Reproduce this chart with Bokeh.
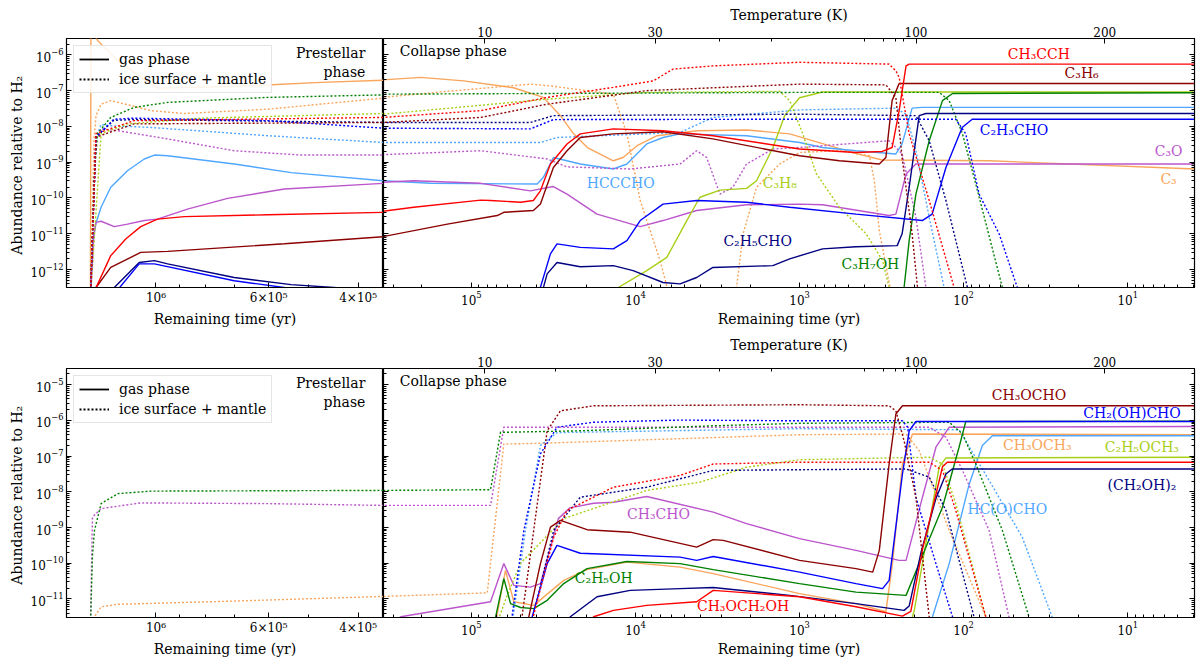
import numpy as np
from bokeh.plotting import figure
from bokeh.models import (Range1d, LogAxis, FixedTicker, CustomJSTickFormatter,
                          Legend, LegendItem, Label)
from bokeh.layouts import column, row
from bokeh.embed import file_html
from bokeh.resources import INLINE

FONT = "DejaVu Serif"

# ---------------------------------------------------------------------------
# Data.  *_t = log10(remaining time / yr),
# *_a = log10(abundance relative to H2).  Each series spans both the
# prestellar panel and the collapse panel (each panel shows its own part).
# ---------------------------------------------------------------------------

# ---------------- top row: C3-bearing species ----------------
c3_gas_t = [6.129, 6.128, 6.122, 6.115, 6.075, 6.043, 6.010, 5.997, 5.911, 5.793, 5.675, 5.552,
            5.54, 5.308, 5.047, 4.743, 4.561, 4.457, 4.378, 4.293, 4.135, 4.075, 3.990, 3.868,
            3.625, 3.321, 3.060, 2.860, 2.654, 2.496, 1.845, 0.59]
c3_gas_a = [-12.8, -5.3, -5.4, -5.6, -6.17, -6.49, -6.82, -6.93, -6.91, -6.85, -6.77, -6.71,
            -6.70, -6.63, -6.73, -6.92, -7.19, -7.70, -8.20, -8.59, -8.96, -8.87, -8.54, -8.26,
            -8.12, -8.10, -8.21, -8.48, -8.76, -8.94, -8.96, -9.19]
c3_ice_t = [6.129, 6.122, 6.118, 6.108, 6.089, 6.063, 6.010, 5.945, 5.780, 5.552,
            5.54, 5.146, 4.640, 4.518, 4.135, 4.052, 3.971, 3.850, 3.789, 3.607, 3.384, 3.344,
            3.262, 3.121, 3.0, 2.757, 2.574, 2.544, 2.514, 2.436]
c3_ice_a = [-12.8, -8.4, -7.70, -7.38, -7.28, -7.37, -7.56, -7.64, -7.52, -7.21,
            -7.19, -7.02, -6.82, -6.87, -7.10, -8.21, -10.07, -11.75, -12.8, -13.5, -12.5, -11.00,
            -9.70, -9.05, -8.73, -8.68, -8.82, -9.52, -10.91, -12.8]

hcccho_gas_t = [6.129, 6.124, 6.118, 6.108, 6.089, 6.056, 6.023, 6.003, 5.977, 5.846, 5.734, 5.552,
                5.54, 5.247, 4.599, 4.561, 4.500, 4.336, 4.135, 4.052, 3.931, 3.832, 3.728, 3.323,
                3.0, 2.860, 2.656, 2.413, 2.375, 2.314, 2.252, 0.59]
hcccho_gas_a = [-12.8, -11.2, -10.7, -10.26, -9.70, -9.24, -8.91, -8.80, -8.82, -9.05, -9.29, -9.52,
                -9.52, -9.59, -9.61, -9.42, -8.87, -9.05, -9.19, -9.05, -8.49, -8.31, -8.21, -8.26,
                -8.45, -8.59, -8.68, -8.77, -8.49, -7.49, -7.47, -7.47]
hcccho_ice_t = [6.129, 6.118, 6.108, 6.089, 6.010, 5.780, 5.552,
                5.54, 4.579, 4.478, 3.728, 3.528, 3.0, 2.413, 2.351, 2.291, 2.210, 2.119, 2.100]
hcccho_ice_a = [-12.8, -8.3, -7.95, -7.98, -8.03, -8.26, -8.45,
                -8.45, -8.45, -8.31, -8.17, -7.75, -7.54, -7.49, -7.66, -8.68, -10.54, -12.5, -12.8]

c3o_gas_t = [6.129, 6.122, 6.118, 6.108, 6.082, 6.056, 6.023, 5.997, 5.938, 5.859, 5.747, 5.552,
             5.54, 5.351, 4.943, 4.640, 4.500, 4.417, 4.234, 3.971, 3.832, 3.627, 3.323, 3.0,
             2.860, 2.454, 2.413, 2.351, 2.291, 0.59]
c3o_gas_a = [-12.8, -11.0, -10.68, -10.65, -10.80, -10.73, -10.63, -10.59, -10.31, -10.01, -9.75, -9.59,
             -9.56, -9.52, -9.59, -9.80, -9.68, -9.89, -10.45, -10.80, -10.63, -10.35, -10.19, -10.17,
             -10.19, -10.49, -10.45, -9.33, -9.05, -9.05]
c3o_ice_t = [6.129, 6.118, 6.108, 6.075, 5.977, 5.846, 5.715, 5.552,
             5.54, 4.943, 4.538, 4.417, 4.032, 3.728, 3.627, 3.566, 3.485, 3.406, 3.323, 3.162,
             3.0, 2.454, 2.375, 2.291, 2.230, 2.210]
c3o_ice_a = [-12.8, -8.3, -8.07, -8.12, -8.35, -8.68, -8.80, -8.80,
             -8.79, -8.68, -8.91, -9.13, -9.19, -9.05, -8.68, -8.87, -9.89, -9.70, -9.05, -8.63,
             -8.59, -8.40, -8.77, -10.54, -12.5, -12.8]

ch3cch_gas_t = [6.124, 6.121, 6.089, 6.059, 6.030, 5.997, 5.944, 5.780, 5.552,
                5.54, 5.351, 4.943, 4.883, 4.700, 4.622, 4.579, 4.518, 4.417, 4.336, 4.135, 3.832,
                3.528, 3.0, 2.656, 2.496, 2.436, 2.393, 2.351, 2.332, 0.59]
ch3cch_gas_a = [-12.8, -12.6, -11.61, -11.14, -10.80, -10.59, -10.52, -10.47, -10.40,
                -10.37, -10.26, -10.06, -10.07, -10.12, -10.07, -9.80, -9.05, -8.49, -8.21, -8.07, -8.12,
                -8.26, -8.63, -8.73, -8.70, -8.59, -7.56, -6.31, -6.26, -6.26]
ch3cch_ice_t = [6.129, 6.118, 6.043, 5.552,
                5.54, 4.943, 4.538, 4.135, 3.892, 3.771, 3.528, 3.0, 2.454, 2.413, 2.393, 2.332,
                2.210, 2.058, 2.039]
ch3cch_ice_a = [-12.8, -8.2, -7.84, -7.75,
                -7.75, -7.56, -7.19, -6.91, -6.73, -6.40, -6.31, -6.21, -6.26, -6.45, -6.63, -8.21,
                -10.07, -12.5, -12.8]

c3h6_gas_t = [6.122, 6.118, 6.089, 6.030, 5.977, 5.747, 5.552,
              5.54, 5.146, 4.842, 4.802, 4.622, 4.579, 4.500, 4.417, 4.336, 4.135, 3.832, 3.528,
              3.0, 2.757, 2.514, 2.474, 2.436, 2.393, 0.59]
c3h6_gas_a = [-12.8, -12.5, -11.94, -11.52, -11.49, -11.28, -11.08,
              -11.08, -10.73, -10.49, -10.40, -10.35, -10.17, -9.15, -8.68, -8.31, -8.21, -8.15, -8.35,
              -8.82, -8.96, -9.05, -8.87, -7.28, -6.80, -6.80]
c3h6_ice_t = [6.129, 6.118, 6.043, 5.552,
              5.54, 4.943, 4.538, 3.931, 3.0, 2.474, 2.413, 2.375, 2.314, 2.281, 2.271]
c3h6_ice_a = [-12.8, -8.3, -7.93, -7.89,
              -7.89, -7.75, -7.38, -7.00, -6.82, -6.84, -7.19, -8.87, -11.00, -12.5, -12.8]

c2h5cho_gas_t = [6.089, 6.082, 6.033, 6.003, 5.977, 5.846, 5.734, 5.650, 5.552,
                 4.579, 4.538, 4.478, 4.336, 4.135, 4.014, 3.832, 3.728, 3.627, 3.528, 3.163,
                 3.060, 2.860, 2.656, 2.405, 2.375, 2.332, 2.271, 2.230, 0.59]
c2h5cho_gas_a = [-12.8, -12.5, -11.80, -11.75, -11.84, -12.22, -12.42, -12.5, -12.62,
                 -12.8, -12.12, -11.80, -11.92, -11.89, -12.03, -12.36, -12.40, -12.22, -11.94, -11.89,
                 -11.70, -11.42, -11.36, -11.33, -11.00, -9.70, -7.70, -7.64, -7.64]
c2h5cho_ice_t = [6.129, 6.118, 6.083, 6.043, 5.552,
                 5.54, 4.640, 4.500, 3.0, 2.291, 2.210, 2.108, 1.977, 1.955]
c2h5cho_ice_a = [-12.8, -8.3, -7.83, -7.81, -7.89,
                 -7.89, -7.89, -7.70, -7.66, -7.70, -8.40, -10.07, -12.5, -12.8]

c2h3cho_gas_t = [6.089, 6.033, 6.003, 5.846, 5.748, 5.656,
                 4.599, 4.518, 4.478, 4.336, 4.135, 4.052, 3.971, 3.832, 3.627, 3.323, 3.060,
                 2.656, 2.252, 2.192, 2.108, 2.009, 1.948, 0.59]
c2h3cho_gas_a = [-12.8, -11.84, -11.84, -12.31, -12.5, -12.8,
                 -12.8, -11.56, -11.28, -11.38, -11.42, -11.19, -10.63, -10.17, -10.07, -10.12, -10.26,
                 -10.45, -10.63, -10.45, -9.15, -8.03, -7.80, -7.80]
c2h3cho_ice_t = [6.129, 6.118, 6.083, 6.043, 5.780, 5.552,
                 5.54, 4.640, 4.500, 3.0, 2.048, 1.987, 1.906, 1.784, 1.673, 1.632]
c2h3cho_ice_a = [-12.8, -8.3, -7.80, -7.77, -7.84, -8.05,
                 -8.05, -8.07, -7.81, -7.80, -7.80, -8.21, -9.89, -11.00, -12.5, -12.8]

c3h8_gas_t = [4.153, 4.105, 3.931, 3.809, 3.687, 3.607, 3.485, 3.323, 3.262, 3.162, 3.091, 3.0, 2.860, 0.59]
c3h8_gas_a = [-12.8, -12.5, -12.03, -11.66, -10.63, -9.98, -9.78, -9.73, -9.52, -8.59, -7.70, -7.20, -7.04, -7.04]
c3h8_ice_t = [6.129, 6.108, 6.056, 5.911, 5.552,
              5.54, 4.538, 3.931, 3.121, 3.060, 2.981, 2.898, 2.757, 2.594, 2.494, 2.454, 2.442]
c3h8_ice_a = [-12.8, -8.20, -7.93, -7.77, -7.64,
              -7.66, -7.24, -7.05, -7.02, -7.28, -8.20, -9.32, -10.26, -11.00, -11.75, -12.5, -12.8]

c3h7oh_gas_t = [2.369, 2.363, 2.332, 2.291, 2.210, 2.129, 2.068, 0.59]
c3h7oh_gas_a = [-12.8, -12.5, -11.19, -9.89, -8.40, -7.28, -7.08, -7.06]
c3h7oh_ice_t = [6.129, 6.122, 6.115, 6.089, 6.043, 5.977, 5.780, 5.552,
                5.54, 3.0, 2.149, 2.088, 2.007, 1.926, 1.764, 1.724]
c3h7oh_ice_a = [-12.8, -9.5, -8.20, -7.75, -7.47, -7.33, -7.19, -7.12,
                -7.10, -7.05, -7.05, -7.28, -8.21, -9.61, -12.5, -12.8]

# ---------------- bottom row: O-bearing COMs ----------------
ch3cho_gas_t = [5.54, 5.430, 4.883, 4.802, 4.741, 4.640, 4.579, 4.52, 4.47, 4.40, 4.255, 4.134,
                3.931, 3.526, 3.323, 3.0, 2.656, 2.393, 2.351, 2.251, 2.169, 2.088, 0.59]
ch3cho_gas_a = [-11.9, -11.5, -11.08, -10.01, -10.62, -10.67, -10.57, -9.6, -8.75, -8.45, -8.32, -8.29,
                -8.13, -8.57, -8.89, -9.31, -9.64, -9.92, -9.92, -8.15, -6.75, -6.19, -6.17]
ch3cho_ice_t = [6.129, 6.125, 6.108, 6.030, 5.780, 5.552,
                5.54, 4.883, 4.802, 3.0, 2.210, 2.108, 2.007, 1.845, 1.724, 1.706]
ch3cho_ice_a = [-11.8, -8.71, -8.47, -8.31, -8.33, -8.38,
                -8.38, -8.38, -6.19, -6.19, -6.19, -6.47, -7.40, -9.08, -11.5, -11.8]

ch3ocho_gas_t = [4.664, 4.650, 4.579, 4.518, 4.457, 4.295, 4.032, 3.627, 3.526, 3.465, 3.0, 2.656,
                 2.554, 2.514, 2.454, 2.413, 2.373, 0.59]
ch3ocho_gas_a = [-11.8, -11.5, -10.01, -8.99, -8.80, -9.06, -9.13, -9.55, -9.34, -9.36, -9.92, -10.15,
                 -10.25, -9.64, -7.22, -5.82, -5.59, -5.59]
ch3ocho_ice_t = [4.700, 4.620, 4.538, 4.457, 4.255, 3.0, 2.454, 2.413, 2.363, 2.291, 2.210, 2.198]
ch3ocho_ice_a = [-11.8, -9.08, -6.29, -5.73, -5.59, -5.56, -5.59, -5.73, -6.57, -8.15, -11.5, -11.8]

glycolald_gas_t = [4.644, 4.629, 4.538, 4.478, 4.336, 3.728, 3.627, 3.526, 3.0, 2.656, 2.494, 2.454,
                   2.373, 2.332, 2.291, 0.59]
glycolald_gas_a = [-11.8, -11.5, -10.01, -9.50, -9.72, -9.83, -9.92, -9.81, -10.25, -10.57, -10.71, -10.48,
                   -7.50, -6.29, -6.03, -6.03]
glycolald_ice_t = [4.761, 4.680, 4.579, 4.478, 4.255, 3.728, 3.0, 2.373, 2.341, 2.291, 2.169, 2.068, 2.058]
glycolald_ice_a = [-11.8, -9.08, -6.94, -6.19, -6.05, -5.99, -6.01, -6.01, -6.19, -8.15, -10.01, -11.5, -11.8]

c2h5oh_gas_t = [4.858, 4.852, 4.802, 4.761, 4.700, 4.620, 4.538, 4.437, 4.295, 4.052, 3.728, 3.526,
                3.0, 2.656, 2.351, 2.230, 2.129, 2.028, 1.987, 0.59]
c2h5oh_gas_a = [-11.8, -11.5, -10.43, -11.13, -11.24, -11.27, -11.04, -10.57, -10.15, -9.95, -10.01, -10.18,
                -10.57, -10.81, -10.90, -9.55, -8.43, -6.75, -6.03, -6.02]
c2h5oh_ice_t = [6.129, 6.125, 6.121, 6.108, 6.075, 6.010, 5.552,
                5.54, 4.883, 4.822, 4.781, 4.336, 3.526, 3.0, 2.088, 2.007, 1.926, 1.764, 1.602, 1.572]
c2h5oh_ice_a = [-11.8, -9.8, -9.08, -8.33, -8.05, -7.98, -7.96,
                -7.96, -7.94, -6.33, -6.33, -6.29, -6.15, -6.08, -6.05, -6.38, -7.22, -9.08, -11.5, -11.8]

ch3och3_gas_t = [4.858, 4.792, 4.741, 4.620, 4.437, 4.295, 4.052, 3.728, 3.526, 3.0, 2.656, 2.474,
                 2.434, 2.373, 2.312, 0.59]
ch3och3_gas_a = [-11.8, -10.20, -11.08, -11.18, -10.48, -10.18, -9.97, -10.11, -10.29, -10.85, -11.13, -11.36,
                 -10.01, -7.22, -6.38, -6.40]
ch3och3_ice_t = [6.125, 6.121, 6.108, 6.075, 5.846, 5.552,
                 5.54, 4.903, 4.802, 4.579, 3.0, 2.351, 2.271, 2.088, 1.865, 1.845]
ch3och3_ice_a = [-11.8, -11.5, -11.22, -11.15, -11.06, -10.93,
                 -10.93, -10.83, -6.66, -6.64, -6.40, -6.38, -6.85, -9.08, -11.5, -11.8]

glycol_gas_t = [4.427, 4.397, 4.234, 4.032, 3.728, 3.526, 3.060, 2.656, 2.363, 2.332, 2.26, 2.17, 2.108, 2.07, 0.59]
glycol_gas_a = [-11.8, -11.5, -10.94, -10.76, -10.71, -10.68, -10.90, -11.13, -11.32, -11.2, -9.7, -8.2, -7.50, -7.36, -7.36]
glycol_ice_t = [4.640, 4.498, 4.336, 3.931, 3.526, 3.0, 2.351, 2.210, 2.108, 1.937, 1.918]
glycol_ice_a = [-11.8, -9.08, -8.15, -7.87, -7.40, -7.38, -7.36, -7.59, -8.52, -11.5, -11.8]

ch3och2oh_gas_t = [4.275, 4.255, 4.134, 3.931, 3.627, 3.526, 3.0, 2.656, 2.373, 2.322, 2.25, 2.16, 2.129, 2.10, 0.59]
ch3och2oh_gas_a = [-11.8, -11.5, -11.32, -11.18, -11.08, -10.76, -10.94, -11.22, -11.48, -11.35, -9.6, -7.9, -7.3, -7.17, -7.17]
ch3och2oh_ice_t = [4.640, 4.498, 4.417, 4.134, 3.728, 3.526, 3.0, 2.210, 2.129, 2.048, 1.865, 1.845]
ch3och2oh_ice_a = [-11.8, -9.27, -8.52, -7.87, -7.54, -7.22, -7.17, -7.17, -7.40, -8.52, -11.5, -11.8]

c2h5och3_gas_t = [2.330, 2.300, 2.210, 2.149, 2.108, 0.59]
c2h5och3_gas_a = [-11.8, -11.3, -8.9, -7.31, -7.05, -7.03]
c2h5och3_ice_t = [4.852, 4.79, 4.700, 4.437, 3.931, 3.607, 3.323, 3.0, 2.210, 2.129, 2.048, 1.865, 1.845]
c2h5och3_ice_a = [-11.8, -11.0, -10.0, -8.75, -7.96, -7.73, -7.31, -7.10, -7.03, -7.22, -8.33, -11.5, -11.8]

glyoxal_gas_t = [2.198, 2.190, 2.088, 1.967, 1.886, 1.825, 0.59]
glyoxal_gas_a = [-11.8, -11.5, -10.01, -7.80, -6.70, -6.43, -6.43]
glyoxal_ice_t = [4.755, 4.670, 4.579, 4.478, 3.0, 2.027, 1.845, 1.643, 1.461, 1.432]
glyoxal_ice_a = [-11.8, -9.08, -6.70, -6.34, -6.23, -6.26, -7.68, -9.27, -11.5, -11.8]

# ---------------- axes: tick values / labels ----------------
temp_labels = ["10", "30", "100", "200"]
temp_major_times = [8.27e4, 7.59e3, 195.0, 13.8]          # yr at T = 10, 30, 100, 200 K
temp_minor_times = [3.08e4, 3.06e3, 1.48e3, 402.0, 308.0, 262.0, 233.0]  # 20,40,...,90 K
pre_ticks = [1e6, 6e5, 4e5]
pre_tick_labels = ["10\u2076", "6\u00d710\u2075", "4\u00d710\u2075"]
pre_minor = [2e6, 9e5, 8e5, 7e5, 5e5, 3e5]
col_ticks = [1e1, 1e2, 1e3, 1e4, 1e5]

# ---------------------------------------------------------------------------
RED, DKRED, BLUE, NAVY = "#ff0000", "#8b0000", "#0000ff", "#000080"
ORCHID, ORANGE, LBLUE, YGREEN, GREEN = "#bb55cc", "#f9a55b", "#4fa7ff", "#a8cf18", "#008000"

top_series = [
    (c3_gas_t, c3_gas_a, ORANGE, True), (c3_ice_t, c3_ice_a, ORANGE, False),
    (hcccho_gas_t, hcccho_gas_a, LBLUE, True), (hcccho_ice_t, hcccho_ice_a, LBLUE, False),
    (c3o_gas_t, c3o_gas_a, ORCHID, True), (c3o_ice_t, c3o_ice_a, ORCHID, False),
    (c3h8_gas_t, c3h8_gas_a, YGREEN, True), (c3h8_ice_t, c3h8_ice_a, YGREEN, False),
    (c3h7oh_gas_t, c3h7oh_gas_a, GREEN, True), (c3h7oh_ice_t, c3h7oh_ice_a, GREEN, False),
    (c2h5cho_gas_t, c2h5cho_gas_a, NAVY, True), (c2h5cho_ice_t, c2h5cho_ice_a, NAVY, False),
    (c2h3cho_gas_t, c2h3cho_gas_a, BLUE, True), (c2h3cho_ice_t, c2h3cho_ice_a, BLUE, False),
    (c3h6_gas_t, c3h6_gas_a, DKRED, True), (c3h6_ice_t, c3h6_ice_a, DKRED, False),
    (ch3cch_gas_t, ch3cch_gas_a, RED, True), (ch3cch_ice_t, ch3cch_ice_a, RED, False),
]
bottom_series = [
    (ch3och3_gas_t, ch3och3_gas_a, ORANGE, True), (ch3och3_ice_t, ch3och3_ice_a, ORANGE, False),
    (glyoxal_gas_t, glyoxal_gas_a, LBLUE, True), (glyoxal_ice_t, glyoxal_ice_a, LBLUE, False),
    (ch3cho_gas_t, ch3cho_gas_a, ORCHID, True), (ch3cho_ice_t, ch3cho_ice_a, ORCHID, False),
    (c2h5och3_gas_t, c2h5och3_gas_a, YGREEN, True), (c2h5och3_ice_t, c2h5och3_ice_a, YGREEN, False),
    (c2h5oh_gas_t, c2h5oh_gas_a, GREEN, True), (c2h5oh_ice_t, c2h5oh_ice_a, GREEN, False),
    (glycol_gas_t, glycol_gas_a, NAVY, True), (glycol_ice_t, glycol_ice_a, NAVY, False),
    (glycolald_gas_t, glycolald_gas_a, BLUE, True), (glycolald_ice_t, glycolald_ice_a, BLUE, False),
    (ch3och2oh_gas_t, ch3och2oh_gas_a, RED, True), (ch3och2oh_ice_t, ch3och2oh_ice_a, RED, False),
    (ch3ocho_gas_t, ch3ocho_gas_a, DKRED, True), (ch3ocho_ice_t, ch3ocho_ice_a, DKRED, False),
]

top_labels = [
    ("CH\u2083CCH", 34.8, 1.05e-6, RED), ("C\u2083H\u2086", 19.1, 3.2e-7, DKRED),
    ("C\u2082H\u2083CHO", 49.3, 7.9e-9, BLUE), ("C\u2083O", 5.64, 2.0e-9, ORCHID),
    ("C\u2083", 5.64, 3.4e-10, ORANGE), ("HCCCHO", 1.23e4, 2.7e-10, LBLUE),
    ("C\u2083H\u2088", 1.32e3, 2.56e-10, YGREEN), ("C\u2082H\u2085CHO", 1.8e3, 6.2e-12, NAVY),
    ("C\u2083H\u2087OH", 370.0, 1.44e-12, GREEN),
]
bottom_labels = [
    ("CH\u2083OCHO", 40.0, 5.26e-6, DKRED), ("CH\u2082(OH)CHO", 9.42, 1.62e-6, BLUE),
    ("CH\u2083OCH\u2083", 35.6, 2.07e-7, ORANGE), ("C\u2082H\u2085OCH\u2083", 8.2, 1.77e-7, YGREEN),
    ("(CH\u2082OH)\u2082", 8.2, 1.57e-8, NAVY), ("HC(O)CHO", 54.2, 3.36e-9, LBLUE),
    ("CH\u2083CHO", 7.24e3, 2.33e-9, ORCHID), ("C\u2082H\u2085OH", 1.56e4, 3.98e-11, GREEN),
    ("CH\u2083OCH\u2082OH", 2.21e3, 6.2e-12, RED),
]

FH = 249
PRE_X = (1.5e6, 3.565e5)
COL_X = (3.43e5, 3.92)


def label_formatter(vals, labs):
    return CustomJSTickFormatter(args=dict(vals=list(vals), labs=list(labs)), code="""
        for (let i = 0; i < vals.length; i++) {
            if (Math.abs(vals[i] - tick) <= 1e-6 * Math.abs(vals[i])) { return labs[i]; }
        }
        return "";
    """)


def blank_formatter():
    return CustomJSTickFormatter(code="return '';")


def style_axis(ax, show_labels=True):
    ax.axis_line_color = "black"
    ax.axis_line_width = 1
    ax.major_tick_in = 5
    ax.major_tick_out = 0
    ax.minor_tick_in = 3
    ax.minor_tick_out = 0
    ax.major_tick_line_color = "black"
    ax.minor_tick_line_color = "black"
    ax.major_label_text_font = FONT
    ax.major_label_text_font_size = "12px"
    ax.major_label_text_color = "black"
    ax.axis_label_text_font = FONT
    ax.axis_label_text_font_size = "14px"
    ax.axis_label_text_font_style = "normal"
    ax.axis_label_text_color = "black"
    ax.major_label_standoff = 3
    ax.axis_label_standoff = 3
    if not show_labels:
        ax.formatter = blank_formatter()
        ax.major_label_standoff = 0


def y_ticker(lo, hi):
    majors = [10.0 ** e for e in range(lo, hi + 1)]
    minors = [k * 10.0 ** e for e in range(lo - 2, hi + 2) for k in range(2, 10)]
    return FixedTicker(ticks=majors, minor_ticks=minors)


def add_series(p, series):
    for t, a, c, gas in series:
        x = 10.0 ** np.asarray(t)
        y = 10.0 ** np.asarray(a)
        if gas:
            p.line(x, y, line_color=c, line_width=1.4)
        else:
            p.line(x, y, line_color=c, line_width=1.4, line_dash="2 2")


def make_row(series, labels, ylo, yhi, dec_lo, dec_hi):
    # ---- prestellar panel ----
    pa = figure(x_axis_type="log", y_axis_type="log",
                x_range=Range1d(*PRE_X), y_range=Range1d(10.0 ** ylo, 10.0 ** yhi),
                frame_width=317, frame_height=FH, min_border_left=66, min_border_right=0,
                min_border_top=38, min_border_bottom=43,
                toolbar_location=None, output_backend="svg")
    # ---- collapse panel ----
    pb = figure(x_axis_type="log", y_axis_type="log",
                x_range=Range1d(*COL_X), y_range=Range1d(10.0 ** ylo, 10.0 ** yhi),
                frame_width=811, frame_height=FH, min_border_left=0, min_border_right=2,
                min_border_top=38, min_border_bottom=43,
                toolbar_location=None, output_backend="svg")
    for p in (pa, pb):
        p.grid.visible = False
        p.outline_line_color = "black"
        p.outline_line_width = 1.2
        p.background_fill_color = "white"
        p.border_fill_color = "white"
        add_series(p, series)

    # prestellar axes
    style_axis(pa.xaxis[0])
    pa.xaxis[0].ticker = FixedTicker(ticks=pre_ticks, minor_ticks=pre_minor)
    pa.xaxis[0].formatter = label_formatter(pre_ticks, pre_tick_labels)
    pa.xaxis[0].axis_label = "Remaining time (yr)"
    style_axis(pa.yaxis[0])
    pa.yaxis[0].ticker = y_ticker(dec_lo, dec_hi)
    pa.yaxis[0].axis_label = "Abundance  relative to H\u2082"

    # collapse axes
    style_axis(pb.xaxis[0])
    pb.xaxis[0].ticker = FixedTicker(ticks=col_ticks,
                                     minor_ticks=[k * 10.0 ** e for e in range(0, 6) for k in range(2, 10)])
    pb.xaxis[0].axis_label = "Remaining time (yr)"
    style_axis(pb.yaxis[0], show_labels=False)
    pb.yaxis[0].ticker = y_ticker(dec_lo, dec_hi)
    right_ax = LogAxis(ticker=y_ticker(dec_lo, dec_hi))
    style_axis(right_ax, show_labels=False)
    pb.add_layout(right_ax, "right")
    top_ax = LogAxis(ticker=FixedTicker(ticks=temp_major_times, minor_ticks=temp_minor_times),
                     formatter=label_formatter(temp_major_times, temp_labels),
                     axis_label="Temperature (K)")
    style_axis(top_ax)
    top_ax.major_label_standoff = 2
    top_ax.axis_label_standoff = 1
    pb.add_layout(top_ax, "above")

    # legend (proxy lines placed outside the visible range)
    r_gas = pa.line([1e8, 2e8], [1e-20, 1e-20], line_color="black", line_width=1.8)
    r_ice = pa.line([1e8, 2e8], [1e-20, 1e-20], line_color="black", line_width=1.8, line_dash="2 2")
    leg = Legend(items=[LegendItem(label="gas phase", renderers=[r_gas]),
                        LegendItem(label="ice surface + mantle", renderers=[r_ice])],
                 location="top_left", label_text_font=FONT, label_text_font_size="14px",
                 label_text_color="black",
                 border_line_color="#cccccc", border_line_width=1, background_fill_alpha=0.85,
                 glyph_width=30, glyph_height=16, spacing=4, padding=5, margin=7,
                 label_standoff=10, label_height=16)
    pa.add_layout(leg)

    # phase captions
    pa.add_layout(Label(x=3.87e5, y=10.0 ** (yhi - 0.176), text="Prestellar\nphase",
                        text_align="right", text_baseline="top", text_font=FONT,
                        text_font_size="14px", text_color="black"))
    pb.add_layout(Label(x=2.73e5, y=10.0 ** (yhi - 0.363), text="Collapse phase",
                        text_align="left", text_baseline="middle", text_font=FONT,
                        text_font_size="14px", text_color="black"))
    # species labels
    for txt, x, y, c in labels:
        pb.add_layout(Label(x=x, y=y, text=txt, text_align="center", text_baseline="middle",
                            text_font=FONT, text_font_size="14px", text_color=c))
    return row(pa, pb)


top_row = make_row(top_series, top_labels, -12.5, -5.545, -12, -6)
bottom_row = make_row(bottom_series, bottom_labels, -11.52, -4.545, -11, -5)
layout = column(top_row, bottom_row)

with open("out.html", "w") as f:
    f.write(file_html(layout, INLINE, "Abundances"))
